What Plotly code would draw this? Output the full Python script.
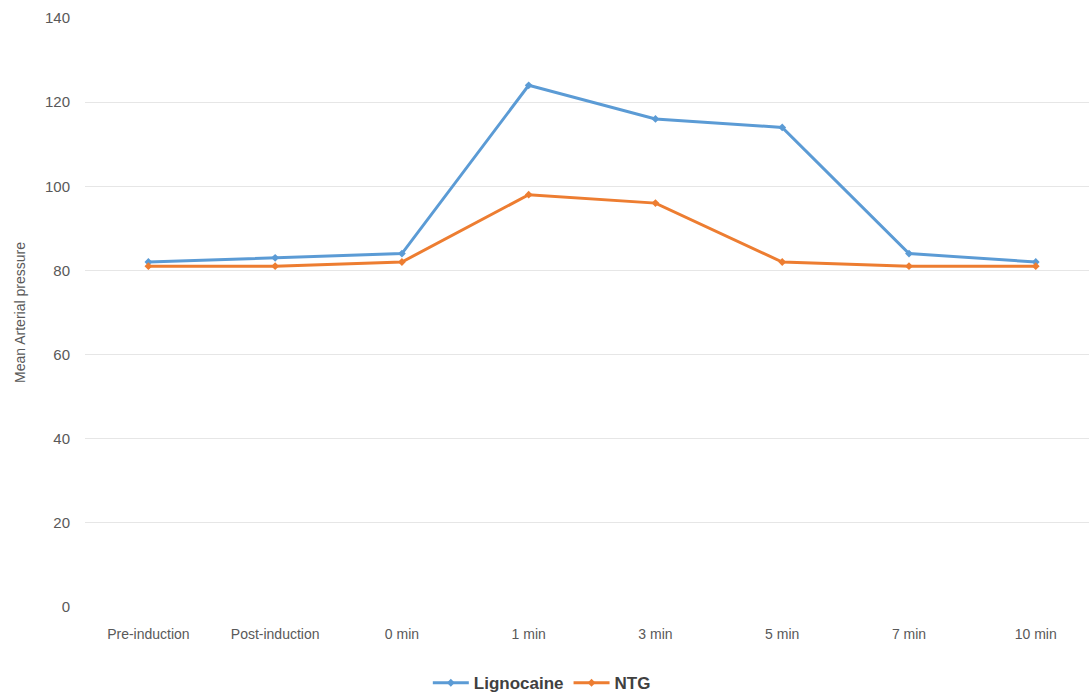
import plotly.graph_objects as go

# Time points and mean arterial pressure readings per group
time_points = ["Pre-induction", "Post-induction", "0 min", "1 min", "3 min", "5 min", "7 min", "10 min"]
lignocaine_map = [82, 83, 84, 124, 116, 114, 84, 82]
ntg_map = [81, 81, 82, 98, 96, 82, 81, 81]
y_ticks = [0, 20, 40, 60, 80, 100, 120, 140]

BLUE = "#5B9BD5"
ORANGE = "#ED7D31"
FONT = "Liberation Sans"

fig = go.Figure()
x_idx = list(range(len(time_points)))

fig.add_trace(go.Scatter(
    x=x_idx, y=lignocaine_map, name="Lignocaine", mode="lines+markers",
    line=dict(color=BLUE, width=3),
    marker=dict(symbol="diamond", size=6, color=BLUE),
))
fig.add_trace(go.Scatter(
    x=x_idx, y=ntg_map, name="NTG", mode="lines+markers",
    line=dict(color=ORANGE, width=3),
    marker=dict(symbol="diamond", size=6, color=ORANGE),
))

fig.update_layout(
    width=1089, height=700,
    margin=dict(l=85, r=0, t=18, b=93, autoexpand=False),
    paper_bgcolor="white", plot_bgcolor="white",
    font=dict(family=FONT, color="#595959", size=13),
    showlegend=True,
    legend=dict(
        orientation="h", x=0.455, xanchor="center",
        yref="container", y=0.024, yanchor="middle",
        font=dict(family=FONT, size=17, color="#404040", weight="bold"),
        itemwidth=36, traceorder="normal",
    ),
)

fig.update_xaxes(
    tickmode="array", tickvals=x_idx, ticktext=time_points,
    range=[-0.5, 7.42], showgrid=False, zeroline=False, showline=False,
    ticks="", ticklabelstandoff=17, tickfont=dict(size=14, color="#595959"),
)
fig.update_yaxes(
    range=[0, 140], tickmode="array", tickvals=y_ticks,
    showgrid=True, gridcolor="#E6E6E6", gridwidth=1,
    zeroline=False, showline=False, ticks="", ticklabelstandoff=14,
    tickfont=dict(size=15, color="#595959"),
    title=dict(text="Mean Arterial pressure", font=dict(size=14, color="#595959"), standoff=16),
)

fig.write_html("out.html")
